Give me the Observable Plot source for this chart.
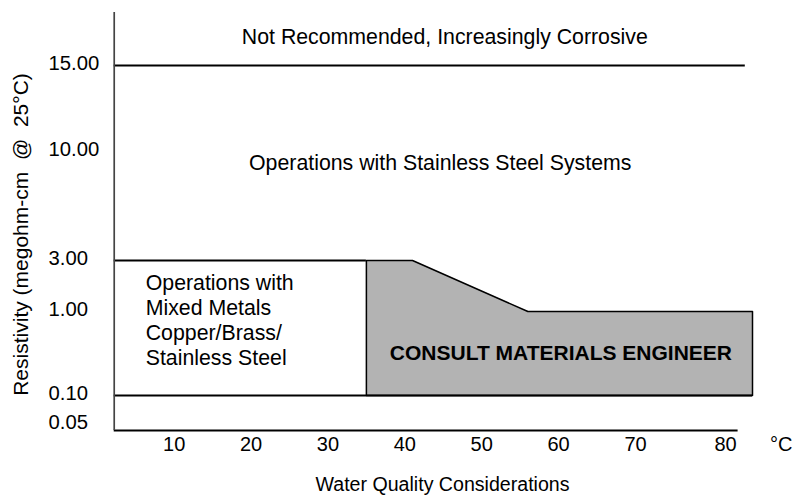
<!DOCTYPE html>
<html>
<head>
<meta charset="utf-8">
<script src="https://cdn.jsdelivr.net/npm/d3@7"></script>
<script src="https://cdn.jsdelivr.net/npm/@observablehq/plot@0.6"></script>
<style>
  html, body { margin: 0; padding: 0; background: #fff; }
  #chart svg { display: block; }
  #chart text { white-space: pre; }
</style>
</head>
<body>
<div id="chart"></div>
<script>
// Tick labels
const tempTicks = [10, 20, 30, 40, 50, 60, 70, 80];
const resistTicks = [0.05, 0.10, 1.00, 3.00, 10.00, 15.00];

// Axis extents (data units)
const tempStart = 2.2;
const resistMin = 0.04;
const resistMax = 18;

// Zone boundaries (horizontal lines)
const boundaryResist = [15, 0.1, 3, resistMin];
const boundaryTempEnd = [82.2, 83, 35, 81.4];

// "Consult materials engineer" zone: upper edge, lower edge at 0.1
const consultTemp = [35, 41, 56, 83];
const consultResist = [3, 3, 1, 1];
const consultFloor = 0.1;

// Zone labels
const zoneLabels = ["Not Recommended, Increasingly Corrosive", "Operations with Stainless Steel Systems"];
const zoneLabelTemp = [45.2, 44.6];
const zoneLabelResist = [16.6, 9.23];
const mixedLabel = "Operations with\nMixed Metals\nCopper/Brass/\nStainless Steel";
const consultLabel = "CONSULT MATERIALS ENGINEER";

const lines = boundaryResist.map((v, i) => ({v, x2: boundaryTempEnd[i]}));
const consultTop = consultTemp.map((t, i) => ({t, r: consultResist[i]}));
const outline = [
  {t: consultTemp[0], r: consultFloor},
  ...consultTop,
  {t: consultTemp[consultTemp.length - 1], r: consultFloor},
  {t: consultTemp[0], r: consultFloor}
];
const zones = zoneLabels.map((s, i) => ({s, t: zoneLabelTemp[i], r: zoneLabelResist[i]}));

const font = "Liberation Sans, Arial, Helvetica, sans-serif";
const annot = 21.3;

const chart = Plot.plot({
  width: 798,
  height: 502,
  marginLeft: 114,
  marginTop: 12,
  marginRight: 46,
  marginBottom: 72,
  style: {fontFamily: font, fontSize: "20px", color: "#000", background: "#fff"},
  x: {type: "linear", domain: [0, 70, 80], range: [96.8, 635, 725], axis: null},
  y: {type: "linear", domain: [0.04, 0.05, 0.1, 1, 3, 10, 15, 18], range: [430, 424, 395, 311, 260, 151, 65, 12], axis: null},
  marks: [
    Plot.areaY(consultTop, {x: "t", y1: consultFloor, y2: "r", fill: "#b3b3b3", stroke: "none"}),
    Plot.line(outline, {x: "t", y: "r", stroke: "#000", strokeWidth: 1.5}),
    Plot.ruleY(lines, {y: "v", x1: () => tempStart, x2: "x2", stroke: "#000", strokeWidth: 2}),
    Plot.ruleX([tempStart], {x: d => d, y1: () => resistMin, y2: () => resistMax, stroke: "#444", strokeWidth: 1.7}),
    Plot.text(resistTicks, {y: d => d, frameAnchor: "left", dx: -66, dy: -2, textAnchor: "start", text: d => d.toFixed(2), fontSize: 20.3, fill: "#000"}),
    Plot.text(tempTicks, {x: d => d, frameAnchor: "bottom", dy: 20, text: d => String(d), fontSize: 20, fill: "#000"}),
    Plot.text(["°C"], {x: () => 86.2, frameAnchor: "bottom", dy: 20, text: d => d, fontSize: 20, fill: "#000"}),
    Plot.text(zones, {x: "t", y: "r", text: "s", fontSize: annot, fill: "#000"}),
    Plot.text([mixedLabel], {x: () => 6.3, y: () => 0.91, text: d => d, textAnchor: "start", lineAnchor: "middle", lineHeight: 25 / annot, fontSize: annot, fill: "#000"}),
    Plot.text([consultLabel], {x: () => 60.3, y: () => 0.55, text: d => d, fontSize: 21, fontWeight: "bold", fill: "#000"}),
    Plot.text(["Water Quality Considerations"], {x: () => 44.9, frameAnchor: "bottom", dy: 60, text: d => d, fontSize: 19.6, fill: "#000"}),
    Plot.text(["Resistivity (megohm-cm  @  25°C)"], {frameAnchor: "left", textAnchor: "middle", dx: -93, dy: 13, rotate: -90, text: d => d, fontSize: 21, fill: "#000"})
  ]
});
document.getElementById("chart").appendChild(chart);
</script>
</body>
</html>
